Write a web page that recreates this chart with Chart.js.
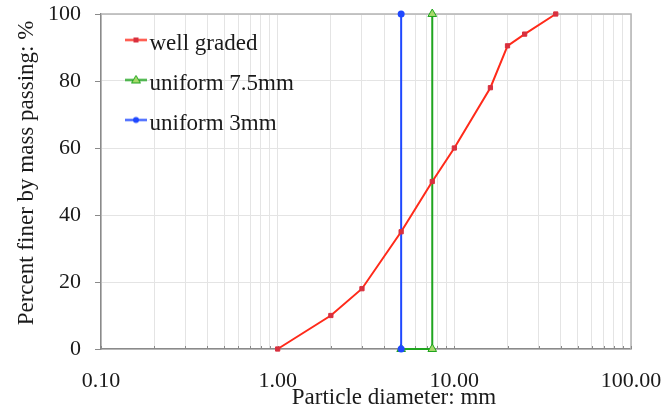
<!DOCTYPE html>
<html>
<head>
<meta charset="utf-8">
<title>Particle size distribution</title>
<script src="https://cdn.jsdelivr.net/npm/chart.js@4/dist/chart.umd.min.js"></script>
<style>
  html, body { margin: 0; padding: 0; background: #fff; }
  canvas { display: block; }
</style>
</head>
<body>
<canvas id="gradingChart" width="664" height="408"></canvas>
<script>
// Данные кривых (размер частиц, мм / процент прохода)
const wellGradedSize = [1, 2, 3, 5, 7.5, 10, 16, 20, 25, 37.5];
const wellGradedPassing = [0, 10, 18, 35, 50, 60, 78, 90.5, 94, 100];

const uniform75Size = [5, 7.5, 7.5];
const uniform75Passing = [0, 0, 100];

const uniform3Size = [5, 5];
const uniform3Passing = [0, 100];

const seriesLabels = ['well graded', 'uniform 7.5mm', 'uniform 3mm'];
const xAxisTitle = 'Particle diameter: mm';
const yAxisTitle = 'Percent finer by mass passing: %';

// Деления оси X (логарифмическая шкала)
const xDecades = [0.1, 1, 10];
const xMax = 100;
const yTicks = [0, 20, 40, 60, 80, 100];

const serif = "'Liberation Serif', 'Times New Roman', serif";
const textColor = '#1a1a1a';
const axisColor = '#8a8a8a';
const gridColor = '#e4e4e4';
const hidden = 'rgba(0, 0, 0, 0)';

const colors = {
  red: '#ff2a1a',
  redMarker: '#d8303e',
  green: '#1fa51f',
  greenMarker: '#a6d86a',
  blue: '#1f48ff',
};

const toPoints = (xs, ys) => xs.map((x, i) => ({ x: x, y: ys[i] }));

// Значения делений: 0.1, 0.2 ... 0.9, 1, 2 ... 100
const xTickValues = [];
xDecades.forEach((d) => {
  for (let m = 1; m <= 9; m++) xTickValues.push(Math.round(d * m * 1000) / 1000);
});
xTickValues.push(xMax);
const xLabelValues = [...xDecades, xMax];

// Значок легенды: линия с маркером
function makeLegendIcon(lineColor, marker) {
  const c = document.createElement('canvas');
  c.width = 38;
  c.height = 20;
  const g = c.getContext('2d');
  const y = 6.5;
  g.strokeStyle = lineColor;
  g.lineWidth = 2;
  g.beginPath();
  g.moveTo(16, y);
  g.lineTo(38, y);
  g.stroke();
  marker(g, 27, y);
  return c;
}

const legendIcons = [
  makeLegendIcon(colors.red, (g, x, y) => {
    g.fillStyle = colors.redMarker;
    g.fillRect(x - 2.5, y - 2.5, 5, 5);
  }),
  makeLegendIcon(colors.green, (g, x, y) => {
    g.fillStyle = colors.greenMarker;
    g.strokeStyle = colors.green;
    g.lineWidth = 1;
    g.beginPath();
    g.moveTo(x, y - 4.5);
    g.lineTo(x + 4.5, y + 3);
    g.lineTo(x - 4.5, y + 3);
    g.closePath();
    g.fill();
    g.stroke();
  }),
  makeLegendIcon(colors.blue, (g, x, y) => {
    g.fillStyle = colors.blue;
    g.beginPath();
    g.arc(x, y, 3, 0, Math.PI * 2);
    g.fill();
  }),
];

// Рамка области графика (верх и право) и короткие засечки осей
const chartAreaFramePlugin = {
  id: 'chartAreaFrame',
  beforeDatasetsDraw(chart) {
    const { ctx, chartArea, scales } = chart;
    ctx.save();
    ctx.strokeStyle = '#b4b4b4';
    ctx.lineWidth = 1.5;
    ctx.beginPath();
    ctx.moveTo(chartArea.left, chartArea.top);
    ctx.lineTo(chartArea.right, chartArea.top);
    ctx.lineTo(chartArea.right, chartArea.bottom);
    ctx.stroke();

    ctx.strokeStyle = axisColor;
    ctx.lineWidth = 1;
    ctx.beginPath();
    yTicks.forEach((v) => {
      const py = Math.round(scales.y.getPixelForValue(v)) + 0.5;
      ctx.moveTo(chartArea.left - 6, py);
      ctx.lineTo(chartArea.left, py);
    });
    xTickValues.forEach((v) => {
      const px = Math.round(scales.x.getPixelForValue(v)) + 0.5;
      ctx.moveTo(px, chartArea.bottom);
      ctx.lineTo(px, chartArea.bottom - 3);
    });
    ctx.stroke();
    ctx.restore();
  },
};

// Подписи осей (смещены как в исходном рисунке)
const axisTitlesPlugin = {
  id: 'axisTitles',
  afterDraw(chart) {
    const { ctx } = chart;
    ctx.save();
    ctx.fillStyle = textColor;
    ctx.font = `23px ${serif}`;
    ctx.textAlign = 'center';
    ctx.textBaseline = 'alphabetic';
    ctx.fillText(xAxisTitle, 394, 404);
    ctx.translate(33, 173);
    ctx.rotate(-Math.PI / 2);
    ctx.fillText(yAxisTitle, 0, 0);
    ctx.restore();
  },
};

const ctx = document.getElementById('gradingChart').getContext('2d');
new Chart(ctx, {
  type: 'scatter',
  data: {
    datasets: [
      {
        label: seriesLabels[0],
        data: toPoints(wellGradedSize, wellGradedPassing),
        showLine: true,
        borderColor: colors.red,
        borderWidth: 2,
        pointStyle: 'rect',
        pointRadius: 3,
        pointBackgroundColor: colors.redMarker,
        pointBorderColor: colors.redMarker,
        pointBorderWidth: 1,
        clip: false,
        order: 0,
      },
      {
        label: seriesLabels[1],
        data: toPoints(uniform75Size, uniform75Passing),
        showLine: true,
        borderColor: colors.green,
        borderWidth: 2,
        pointStyle: 'triangle',
        pointRadius: 5,
        pointBackgroundColor: colors.greenMarker,
        pointBorderColor: colors.green,
        pointBorderWidth: 1,
        clip: false,
        order: 2,
      },
      {
        label: seriesLabels[2],
        data: toPoints(uniform3Size, uniform3Passing),
        showLine: true,
        borderColor: colors.blue,
        borderWidth: 2,
        pointStyle: 'circle',
        pointRadius: 3.5,
        pointBackgroundColor: colors.blue,
        pointBorderColor: colors.blue,
        pointBorderWidth: 0,
        clip: false,
        order: 1,
      },
    ],
  },
  options: {
    responsive: false,
    animation: false,
    layout: {
      autoPadding: false,
      padding: { top: 14, right: 33, bottom: 0, left: 0 },
    },
    plugins: {
      tooltip: { enabled: false },
      legend: {
        position: 'chartArea',
        align: 'start',
        // пустой заголовок легенды — только отступ сверху
        title: {
          display: true,
          text: ' ',
          font: { family: serif, size: 15, lineHeight: 1 },
          padding: 0,
        },
        labels: {
          usePointStyle: true,
          pointStyleWidth: 20,
          padding: 17,
          color: textColor,
          font: { family: serif, size: 23 },
          sort: (a, b) => a.datasetIndex - b.datasetIndex,
          generateLabels: (chart) =>
            Chart.defaults.plugins.legend.labels.generateLabels(chart).map((item) => ({
              ...item,
              pointStyle: legendIcons[item.datasetIndex],
            })),
        },
      },
    },
    scales: {
      x: {
        type: 'logarithmic',
        min: xDecades[0],
        max: xMax,
        afterBuildTicks: (scale) => {
          scale.ticks = xTickValues.map((v) => ({ value: v }));
        },
        afterFit: (scale) => {
          scale.height = 59;
        },
        ticks: {
          autoSkip: false,
          maxRotation: 0,
          padding: 0,
          color: textColor,
          font: { family: serif, size: 22 },
          callback: (value) => (xLabelValues.includes(value) ? value.toFixed(2) : ''),
        },
        grid: {
          color: gridColor,
          tickColor: hidden,
          tickLength: 19,
        },
        border: { color: axisColor, width: 1.5 },
      },
      y: {
        min: 0,
        max: 100,
        afterBuildTicks: (scale) => {
          scale.ticks = yTicks.map((v) => ({ value: v }));
        },
        afterFit: (scale) => {
          scale.width = 101;
        },
        ticks: {
          padding: 0,
          color: textColor,
          font: { family: serif, size: 22 },
        },
        grid: {
          color: gridColor,
          tickColor: hidden,
          tickLength: 20,
        },
        border: { color: axisColor, width: 1.5 },
      },
    },
  },
  plugins: [chartAreaFramePlugin, axisTitlesPlugin],
});
</script>
</body>
</html>
